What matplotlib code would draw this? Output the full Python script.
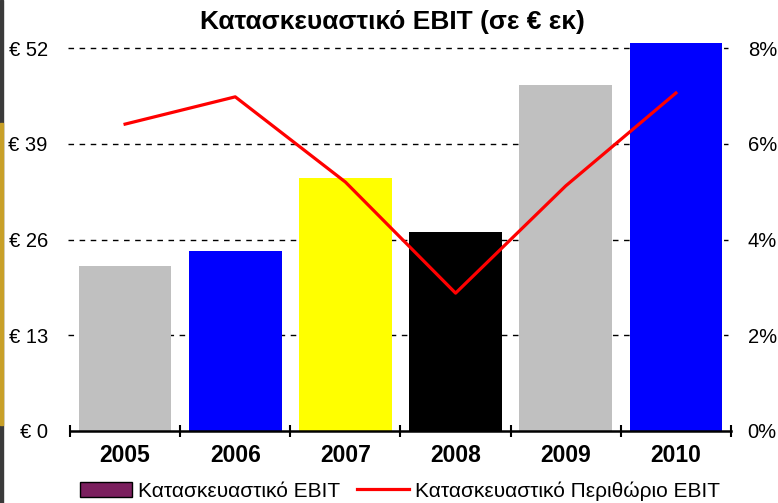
import matplotlib
matplotlib.use("Agg")
import matplotlib.pyplot as plt
from matplotlib.patches import Rectangle
from matplotlib.lines import Line2D
import numpy as np

years = ["2005", "2006", "2007", "2008", "2009", "2010"]
ebit = [22.4, 24.4, 34.3, 27.0, 47.0, 52.7]
margin = [6.41, 6.98, 5.2, 2.88, 5.12, 7.06]
bar_colors = ["#C0C0C0", "#0000FF", "#FFFF00", "#000000", "#C0C0C0", "#0000FF"]
left_ticks = [0, 13, 26, 39, 52]
left_labels = ["€ 0", "€ 13", "€ 26", "€ 39", "€ 52"]
right_ticks = [0, 2, 4, 6, 8]
right_labels = ["0%", "2%", "4%", "6%", "8%"]
title = "Κατασκευαστικό EBIT (σε € εκ)"
legend_labels = ["Κατασκευαστικό EBIT", "Κατασκευαστικό Περιθώριο EBIT"]

plt.rcParams['font.family'] = ['Liberation Sans', 'DejaVu Sans']

fig = plt.figure(figsize=(7.78, 5.03), dpi=100)
fig.patch.set_facecolor("white")
# left edge strip
fig.add_artist(Rectangle((0, 0), 2.5/778, 1, transform=fig.transFigure, color="#3a3a3a", zorder=10))
fig.add_artist(Rectangle((0, 1-425/503), 2.5/778, (425-123)/503, transform=fig.transFigure, color="#C8A028", zorder=11))

ax = fig.add_axes([70/778, 1-431/503, (731-70)/778, (431-48)/503])
x = np.arange(len(years))
ax.bar(x, ebit, width=0.84, color=bar_colors, zorder=2, clip_on=False)
ax.set_xlim(-0.5, len(years)-0.5)
ax.set_ylim(0, 52)
ax.set_yticks(left_ticks)
ax.set_yticklabels(left_labels, fontsize=14.5)
ax.tick_params(axis='y', length=0, pad=16)
for t in left_ticks[1:]:
    ax.axhline(t, xmin=-0.003, xmax=0.996, color="black", lw=1, ls=(0, (4, 4)), zorder=1, clip_on=False)
ax.set_xticks(x)
ax.set_xticklabels(years, fontsize=16.5, fontweight='bold')
ax.set_xticks(np.arange(-0.5, len(years)), minor=True)
ax.tick_params(axis='x', which='major', length=0, pad=9)
ax.tick_params(axis='x', which='minor', length=8, direction='inout', width=1.5)
for s in ["top", "left", "right"]:
    ax.spines[s].set_visible(False)
ax.spines["bottom"].set_linewidth(1.8)
ax.spines["bottom"].set_zorder(5)

ax2 = ax.twinx()
ax2.plot(x, margin, color="#FF0000", lw=2.3, zorder=3)
ax2.set_ylim(0, 8)
ax2.set_yticks(right_ticks)
ax2.set_yticklabels(right_labels, fontsize=14.5)
ax2.tick_params(axis='y', length=0, pad=12)
for s in ["top", "left", "right", "bottom"]:
    ax2.spines[s].set_visible(False)

fig.text(392/778, 1-22/503, title, ha='center', va='center', fontsize=19, fontweight='bold')

handles = [Rectangle((0, 0), 1, 1, facecolor="#7B1F5E", edgecolor="black", lw=1),
           Line2D([0], [0], color="#FF0000", lw=2.3)]
fig.legend(handles, legend_labels, loc='center', bbox_to_anchor=(400/778, 1-491/503), ncol=2,
           frameon=False, fontsize=15, handlelength=2.5, handletextpad=0.3, columnspacing=0.8)

fig.savefig("out.png", dpi=100)
